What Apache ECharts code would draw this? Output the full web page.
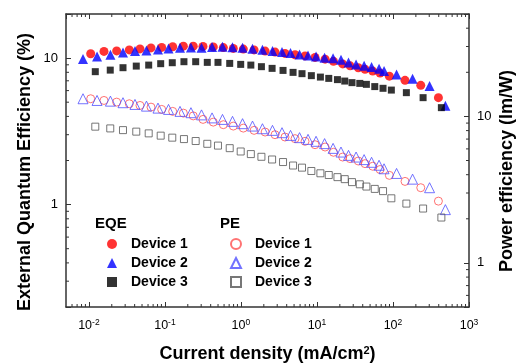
<!DOCTYPE html>
<html>
<head>
<meta charset="utf-8">
<script src="https://cdn.jsdelivr.net/npm/echarts@6.0.0/dist/echarts.min.js"></script>
<style>html,body{margin:0;padding:0;background:#fff}#c{width:520px;height:363px}</style>
</head>
<body>
<div id="c"></div>
<script>
// Device 1
const d1X = [0.01056, 0.0158, 0.0232, 0.0340, 0.0470, 0.0656, 0.0907, 0.1266, 0.175, 0.236, 0.317, 0.433, 0.587, 0.794, 1.075, 1.49, 2.08, 2.81, 3.80, 5.15, 6.97, 9.44, 12.8, 16.5, 21.8, 27.3, 35.0, 42.9, 54.2, 67.6, 89.6, 144, 232, 396];
const d1EQE = [10.71, 11.11, 11.20, 11.37, 11.55, 11.74, 11.83, 11.96, 12.07, 12.07, 12.02, 11.92, 11.79, 11.64, 11.52, 11.37, 11.16, 10.99, 10.77, 10.55, 10.35, 10.11, 9.84, 9.50, 9.13, 8.85, 8.60, 8.40, 8.15, 7.90, 7.53, 7.05, 6.52, 5.37];
const d1PE = [13.20, 12.85, 12.52, 12.20, 11.88, 11.57, 11.16, 10.82, 10.53, 10.08, 9.54, 9.14, 8.78, 8.59, 8.32, 8.03, 7.82, 7.50, 7.23, 7.05, 6.76, 6.41, 6.18, 5.69, 5.28, 5.15, 4.96, 4.76, 4.57, 4.34, 3.96, 3.60, 3.26, 2.64];
// Device 2
const d2X = [0.00837, 0.0128, 0.0192, 0.0281, 0.0404, 0.0572, 0.0811, 0.1115, 0.158, 0.220, 0.303, 0.417, 0.572, 0.775, 1.05, 1.42, 1.92, 2.60, 3.47, 4.49, 5.90, 7.63, 9.73, 12.6, 16.3, 20.7, 26.0, 32.7, 41.7, 52.3, 65.6, 76.3, 111.5, 181, 303, 489];
const d2EQE = [9.87, 10.27, 10.56, 10.90, 11.16, 11.28, 11.43, 11.64, 11.77, 11.83, 11.77, 11.92, 11.96, 11.88, 11.77, 11.59, 11.41, 11.16, 10.99, 10.82, 10.60, 10.43, 10.27, 10.06, 9.98, 9.75, 9.35, 9.06, 8.88, 8.68, 8.47, 8.15, 7.74, 7.24, 6.46, 4.72];
const d2PE = [13.20, 12.85, 12.71, 12.40, 12.07, 11.75, 11.39, 11.16, 10.82, 10.60, 10.24, 9.77, 9.54, 9.25, 8.92, 8.59, 8.24, 8.03, 7.74, 7.42, 7.16, 6.97, 6.76, 6.52, 6.05, 5.71, 5.42, 5.28, 5.07, 4.86, 4.64, 4.39, 4.08, 3.73, 3.26, 2.31];
// Device 3
const d3X = [0.01214, 0.0191, 0.0281, 0.0420, 0.0612, 0.0880, 0.125, 0.178, 0.254, 0.361, 0.499, 0.712, 0.993, 1.35, 1.86, 2.57, 3.58, 4.85, 6.36, 8.44, 11.1, 14.3, 18.6, 23.2, 28.9, 36.6, 44.7, 57.6, 74.0, 95.2, 150, 249, 433];
const d3EQE = [8.08, 8.28, 8.60, 8.82, 8.96, 9.16, 9.30, 9.45, 9.45, 9.35, 9.35, 9.20, 9.06, 8.96, 8.74, 8.51, 8.24, 7.99, 7.83, 7.59, 7.42, 7.27, 7.13, 6.97, 6.80, 6.72, 6.62, 6.39, 6.22, 6.05, 5.81, 5.37, 4.59];
const d3PE = [8.51, 8.28, 8.06, 7.87, 7.66, 7.39, 7.16, 7.00, 6.79, 6.50, 6.32, 6.07, 5.76, 5.53, 5.30, 5.08, 4.88, 4.62, 4.47, 4.24, 4.09, 3.98, 3.85, 3.73, 3.56, 3.44, 3.32, 3.20, 3.09, 2.76, 2.54, 2.35, 2.04];

const deviceNames = ['Device 1', 'Device 2', 'Device 3'];
// minor tick values
const xMinorTicks = [0.006,0.007,0.008,0.009, 0.02,0.03,0.04,0.05,0.06,0.07,0.08,0.09, 0.2,0.3,0.4,0.5,0.6,0.7,0.8,0.9, 2,3,4,5,6,7,8,9, 20,30,40,50,60,70,80,90, 200,300,400,500,600,700,800,900];
const yLeftMinorTicks = [0.3,0.4,0.5,0.6,0.7,0.8,0.9, 2,3,4,5,6,7,8,9];
const yRightMinorTicks = [0.6,0.7,0.8,0.9, 2,3,4,5,6,7,8,9, 20,30,40];

const FONT = '"Liberation Sans", Arial, sans-serif';
const AX = '#333';

function pairs(xs, ys) { return xs.map((x, i) => [x, ys[i]]); }
function isPow(v) { const l = Math.log10(v); return Math.abs(l - Math.round(l)) < 1e-6; }

const chart = echarts.init(document.getElementById('c'), null, {renderer: 'canvas'});

function xMinorRender(params, api) {
  const p = api.coord([api.value(0), 1]);
  const cs = params.coordSys;
  const st = {stroke: AX, lineWidth: 1};
  return {type: 'group', children: [
    {type: 'line', shape: {x1: p[0], y1: cs.y + cs.height, x2: p[0], y2: cs.y + cs.height - 3}, style: st},
    {type: 'line', shape: {x1: p[0], y1: cs.y, x2: p[0], y2: cs.y + 3}, style: st}
  ]};
}
function yLeftMinorRender(params, api) {
  const p = api.coord([1, api.value(1)]);
  const cs = params.coordSys;
  return {type: 'line', shape: {x1: cs.x, y1: p[1], x2: cs.x + 3, y2: p[1]}, style: {stroke: AX, lineWidth: 1}};
}
function yRightMinorRender(params, api) {
  const p = api.coord([1, api.value(1)]);
  const cs = params.coordSys;
  return {type: 'line', shape: {x1: cs.x + cs.width, y1: p[1], x2: cs.x + cs.width - 3, y2: p[1]}, style: {stroke: AX, lineWidth: 1}};
}

const axisCommon = {
  type: 'log', logBase: 10,
  axisLine: {show: true, onZero: false, lineStyle: {color: AX, width: 1.5}},
  axisTick: {show: true, inside: true, length: 5, lineStyle: {color: AX, width: 1}},
  splitLine: {show: false},
  minorTick: {show: false}
};

const legendCommon = {
  orient: 'vertical', top: 237, padding: 0, itemWidth: 10, itemHeight: 10, itemGap: 5,
  formatter: n => n.replace(/^(EQE|PE) /, ''),
  textStyle: {fontFamily: FONT, fontWeight: 'bold', fontSize: 14, color: '#000', lineHeight: 14, padding: [0, 0, 0, 9]}
};

const option = {
  animation: false,
  backgroundColor: '#fff',
  grid: {left: 66, right: 51, top: 14, bottom: 56, containLabel: false, outerBoundsMode: 'none'},
  xAxis: [
    Object.assign({}, axisCommon, {
      min: 0.005, max: 1000, position: 'bottom',
      name: 'Current density (mA/cm{sup|2})', nameLocation: 'middle', nameGap: 38,
      nameTextStyle: {fontFamily: FONT, fontWeight: 'bold', fontSize: 18, color: '#000',
        rich: {sup: {fontFamily: FONT, fontWeight: 'bold', fontSize: 11, verticalAlign: 'top', padding: [0, 0, 8, 0]}}},
      axisLabel: {margin: 11, showMinLabel: false,
        formatter: v => isPow(v) ? '{b|10}{s|' + Math.round(Math.log10(v)) + '}' : '',
        rich: {
          b: {fontFamily: FONT, fontSize: 12.5, color: '#000'},
          s: {fontFamily: FONT, fontSize: 8.5, color: '#000', verticalAlign: 'top', padding: [0, 0, 7, 0]}
        }}
    }),
    Object.assign({}, axisCommon, {
      min: 0.005, max: 1000, position: 'top', axisLabel: {show: false}
    })
  ],
  yAxis: [
    Object.assign({}, axisCommon, {
      min: 0.2, max: 20, position: 'left',
      axisLabel: {margin: 8, fontFamily: FONT, fontSize: 13, color: '#000',
        formatter: v => isPow(v) ? String(Math.round(v)) : ''}
    }),
    Object.assign({}, axisCommon, {
      min: 0.5, max: 50, position: 'right',
      axisLabel: {margin: 8, fontFamily: FONT, fontSize: 13, color: '#000',
        formatter: v => isPow(v) ? String(Math.round(v)) : ''}
    })
  ],
  legend: [
    Object.assign({}, legendCommon, {data: ['EQE Device 1', 'EQE Device 2', 'EQE Device 3'], left: 107}),
    Object.assign({}, legendCommon, {data: ['PE Device 1', 'PE Device 2', 'PE Device 3'], left: 230})
  ],
  graphic: [
    {type: 'text', x: 25, y: 172, rotation: Math.PI / 2,
      style: {text: 'External Quantum Efficiency (%)', font: 'bold 18px ' + FONT, fill: '#000', align: 'center', verticalAlign: 'middle'}},
    {type: 'text', x: 507, y: 171, rotation: Math.PI / 2,
      style: {text: 'Power efficiency (lm/W)', font: 'bold 18px ' + FONT, fill: '#000', align: 'center', verticalAlign: 'middle'}},
    {type: 'text', x: 95, y: 224,
      style: {text: 'EQE', font: 'bold 15px ' + FONT, fill: '#000', align: 'left', verticalAlign: 'middle'}},
    {type: 'text', x: 220, y: 224,
      style: {text: 'PE', font: 'bold 15px ' + FONT, fill: '#000', align: 'left', verticalAlign: 'middle'}}
  ],
  series: [
    {name: 'EQE Device 1', type: 'scatter', xAxisIndex: 0, yAxisIndex: 0, symbol: 'circle', symbolSize: 9,
      itemStyle: {color: '#ff0000'}, data: pairs(d1X, d1EQE)},
    {name: 'EQE Device 2', type: 'scatter', xAxisIndex: 0, yAxisIndex: 0, symbol: 'triangle', symbolSize: 10,
      itemStyle: {color: '#0000ff'}, data: pairs(d2X, d2EQE)},
    {name: 'EQE Device 3', type: 'scatter', xAxisIndex: 0, yAxisIndex: 0, symbol: 'rect', symbolSize: 7,
      itemStyle: {color: '#000000'}, data: pairs(d3X, d3EQE)},
    {name: 'PE Device 1', type: 'scatter', xAxisIndex: 0, yAxisIndex: 1, symbol: 'circle', symbolSize: 8,
      itemStyle: {color: 'rgba(0,0,0,0)', borderColor: '#ff5050', borderWidth: 1}, data: pairs(d1X, d1PE)},
    {name: 'PE Device 2', type: 'scatter', xAxisIndex: 0, yAxisIndex: 1, symbol: 'triangle', symbolSize: 10,
      itemStyle: {color: 'rgba(0,0,0,0)', borderColor: '#5050ff', borderWidth: 1}, data: pairs(d2X, d2PE)},
    {name: 'PE Device 3', type: 'scatter', xAxisIndex: 0, yAxisIndex: 1, symbol: 'rect', symbolSize: 7,
      itemStyle: {color: 'rgba(0,0,0,0)', borderColor: '#555555', borderWidth: 1}, data: pairs(d3X, d3PE)},
    {type: 'custom', xAxisIndex: 0, yAxisIndex: 0, silent: true, clip: false, renderItem: xMinorRender,
      data: xMinorTicks.map(v => [v, 1])},
    {type: 'custom', xAxisIndex: 0, yAxisIndex: 0, silent: true, clip: false, renderItem: yLeftMinorRender,
      data: yLeftMinorTicks.map(v => [1, v])},
    {type: 'custom', xAxisIndex: 0, yAxisIndex: 1, silent: true, clip: false, renderItem: yRightMinorRender,
      data: yRightMinorTicks.map(v => [1, v])}
  ]
};
chart.setOption(option);
</script>
</body>
</html>
